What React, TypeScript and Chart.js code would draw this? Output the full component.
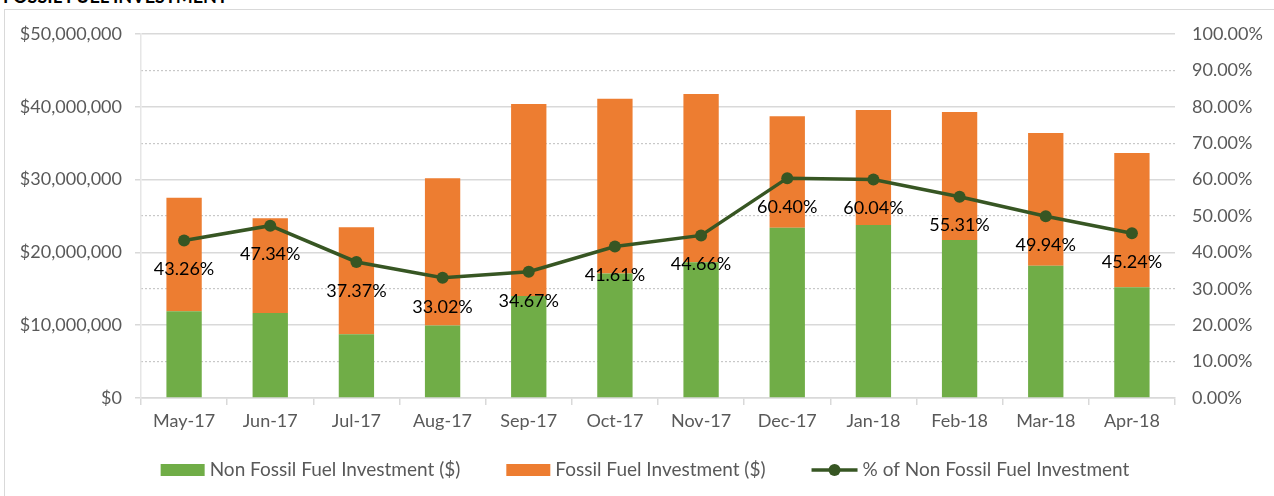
import React, { useEffect, useRef } from "react";
import { Chart, registerables } from "chart.js";

Chart.register(...registerables);

const months = ["May-17", "Jun-17", "Jul-17", "Aug-17", "Sep-17", "Oct-17", "Nov-17", "Dec-17", "Jan-18", "Feb-18", "Mar-18", "Apr-18"];
const nonFossil = [11900000, 11690000, 8760000, 9970000, 14000000, 17100000, 18650000, 23400000, 23750000, 21700000, 18180000, 15220000];
const fossil = [15600000, 13010000, 14690000, 20230000, 26400000, 24000000, 23110000, 15300000, 15810000, 17600000, 18220000, 18430000];
const pctNonFossil = [43.26, 47.34, 37.37, 33.02, 34.67, 41.61, 44.66, 60.4, 60.04, 55.31, 49.94, 45.24];
const legendLabels = ["Non Fossil Fuel Investment ($)", "Fossil Fuel Investment ($)", "% of Non Fossil Fuel Investment"];

const GREEN = "#70AD47";
const ORANGE = "#ED7D31";
const DARK = "#375623";
const FONT = "Lato";

const labelPlugin = {
  id: "pctLabels",
  afterDatasetsDraw(chart: any) {
    const meta = chart.getDatasetMeta(2);
    const ctx = chart.ctx;
    ctx.save();
    ctx.font = `18px ${FONT}`;
    ctx.fillStyle = "#000";
    ctx.textAlign = "center";
    ctx.textBaseline = "middle";
    meta.data.forEach((pt: any, i: number) => {
      ctx.fillText(pctNonFossil[i].toFixed(2) + "%", pt.x, pt.y + 29);
    });
    ctx.restore();
  },
};

const legendPlugin = {
  id: "customLegend",
  afterDraw(chart: any) {
    const ctx = chart.ctx;
    ctx.save();
    ctx.font = `19px ${FONT}`;
    const boxW = 44;
    const lineW = 46;
    const gapText = 5;
    const gapItem = 46;
    const markW = [boxW, boxW, lineW];
    const widths = legendLabels.map((t, i) => markW[i] + gapText + ctx.measureText(t).width);
    const total = widths.reduce((a, b) => a + b, 0) + gapItem * (widths.length - 1);
    let x = 645 - total / 2;
    const y = 470;
    legendLabels.forEach((t, i) => {
      if (i === 0 || i === 1) {
        ctx.fillStyle = i === 0 ? GREEN : ORANGE;
        ctx.fillRect(x, y - 6, boxW, 12);
      } else {
        ctx.strokeStyle = DARK;
        ctx.lineWidth = 3.5;
        ctx.beginPath();
        ctx.moveTo(x, y);
        ctx.lineTo(x + lineW, y);
        ctx.stroke();
        ctx.fillStyle = DARK;
        ctx.beginPath();
        ctx.arc(x + lineW / 2, y, 6, 0, Math.PI * 2);
        ctx.fill();
      }
      ctx.fillStyle = "#595959";
      ctx.textAlign = "left";
      ctx.textBaseline = "middle";
      ctx.fillText(t, x + markW[i] + gapText, y);
      x += widths[i] + gapItem;
    });
    ctx.restore();
  },
};

export default function App() {
  const ref = useRef<HTMLCanvasElement>(null);
  useEffect(() => {
    if (!ref.current) return;
    const chart = new Chart(ref.current, {
      type: "bar",
      data: {
        labels: months,
        datasets: [
          {
            type: "bar",
            label: legendLabels[0],
            data: nonFossil,
            backgroundColor: GREEN,
            yAxisID: "y",
            order: 1,
            categoryPercentage: 0.41,
            barPercentage: 1,
          },
          {
            type: "bar",
            label: legendLabels[1],
            data: fossil,
            backgroundColor: ORANGE,
            yAxisID: "y",
            order: 1,
            categoryPercentage: 0.41,
            barPercentage: 1,
          },
          {
            type: "line",
            label: legendLabels[2],
            data: pctNonFossil,
            borderColor: DARK,
            backgroundColor: DARK,
            borderWidth: 3.5,
            pointRadius: 6,
            pointBackgroundColor: DARK,
            pointBorderWidth: 0,
            yAxisID: "y1",
            order: 0,
            tension: 0,
          } as any,
        ],
      },
      options: {
        responsive: false,
        animation: false,
        layout: { padding: { top: 34, left: 0, right: 0, bottom: 0 } },
        plugins: { legend: { display: false }, tooltip: { enabled: false } },
        scales: {
          x: {
            stacked: true,
            offset: true,
            afterFit: (s: any) => { s.height = 98; },
            grid: { offset: true, drawOnChartArea: false, tickLength: 7, color: "#d9d9d9", lineWidth: 1.5 },
            border: { color: "#d9d9d9", width: 1.5 },
            ticks: { color: "#595959", font: { family: FONT, size: 18 }, padding: 5, maxRotation: 0 },
          },
          y: {
            stacked: true,
            position: "left",
            min: 0,
            max: 50000000,
            afterFit: (s: any) => { s.width = 141; },
            grid: { color: "#d9d9d9", lineWidth: 1.5, tickLength: 6 },
            border: { color: "#e6e6e6", width: 1.5 },
            ticks: {
              stepSize: 10000000,
              color: "#595959",
              padding: 13,
              font: { family: FONT, size: 18 },
              callback: (v: any) => "$" + Number(v).toLocaleString("en-US"),
            },
          },
          y1: {
            stacked: false,
            position: "right",
            min: 0,
            max: 100,
            afterFit: (s: any) => { s.width = 99; },
            grid: {
              drawOnChartArea: true,
              drawTicks: false,
              color: (c: any) => (c.index % 2 === 1 ? "#c8c8c8" : "rgba(0,0,0,0)"),
              lineWidth: 1.2,
            },
            border: { display: false, dash: [2, 2] },
            ticks: {
              stepSize: 10,
              color: "#595959",
              padding: 17,
              font: { family: FONT, size: 18 },
              callback: (v: any) => Number(v).toFixed(2) + "%",
            },
          },
        },
      },
      plugins: [labelPlugin, legendPlugin],
    } as any);
    return () => chart.destroy();
  }, []);

  return (
    <div style={{ position: "fixed", left: 0, top: 0, width: 1274, height: 496, background: "#fff", overflow: "hidden" }}>
      <div
        style={{
          position: "absolute",
          left: 3,
          top: -13,
          fontFamily: FONT,
          fontWeight: 700,
          fontSize: 18,
          color: "#000",
          whiteSpace: "nowrap",
          lineHeight: "18px",
        }}
      >
        FOSSIL FUEL INVESTMENT
      </div>
      <div
        style={{
          position: "absolute",
          left: 4,
          top: 9,
          width: 1320,
          height: 600,
          border: "1.5px solid #d9d9d9",
          boxSizing: "border-box",
        }}
      />
      <canvas ref={ref} width={1274} height={496} style={{ position: "absolute", left: 0, top: 0 }} />
    </div>
  );
}
